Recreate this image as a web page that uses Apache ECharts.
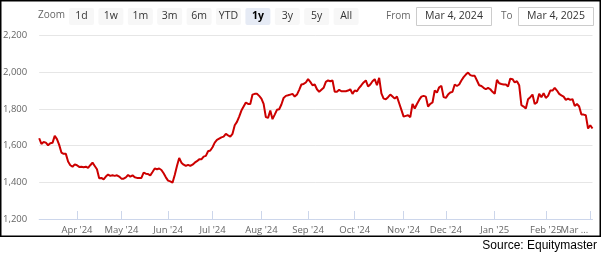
<!DOCTYPE html>
<html>
<head>
<meta charset="utf-8">
<script src="https://cdn.jsdelivr.net/npm/echarts@6/dist/echarts.min.js"></script>
<style>
  html, body { margin: 0; padding: 0; background: #fff; }
  #chart { width: 602px; height: 258px; }
</style>
</head>
<body>
<div id="chart"></div>
<script>
// Daily closing values, one array per month (Mar 4, 2024 – Mar 4, 2025)
const mar24 = [1640,1609,1620,1616,1602,1613,1615,1653,1635,1604,1562,1555,1555,1513,1493,1485,1498];
const apr24 = [1493,1484,1485,1482,1485,1478,1493,1507,1489,1471,1422,1424,1416,1431,1442,1435,1438,1435,1438,1431];
const may24 = [1420,1420,1427,1440,1431,1438,1427,1424,1424,1424,1453,1447,1445,1438,1456,1475,1471,1475,1467,1449,1427];
const jun24 = [1409,1405,1398,1440,1489,1533,1507,1496,1489,1495,1489,1496,1507,1515,1525,1525,1540,1544,1569,1573];
const jul24 = [1591,1616,1631,1638,1645,1649,1664,1656,1649,1664,1711,1729,1758,1791,1813,1835,1827,1827,1878,1882,1882,1871];
const aug24 = [1856,1827,1755,1751,1791,1744,1769,1795,1798,1824,1860,1871,1874,1878,1882,1867,1878,1904,1933,1936,1944];
const sep24 = [1962,1947,1929,1933,1907,1893,1904,1915,1947,1955,1951,1955,1893,1893,1904,1896,1896,1896,1900,1907,1882];
const oct24 = [1900,1896,1915,1929,1944,1955,1922,1933,1951,1962,1929,1969,1885,1856,1853,1864,1878,1867,1856,1867,1831,1795];
const nov24 = [1758,1762,1765,1755,1827,1802,1827,1849,1867,1871,1867,1813,1827,1835,1900,1889,1918,1925,1864];
const dec24 = [1860,1878,1889,1893,1933,1925,1933,1955,1973,1987,1998,1984,1980,1980,1955,1929,1925,1915,1907,1915,1907,1893];
const jan25 = [1882,1958,1940,1936,1933,1933,1922,1965,1962,1944,1951,1929,1820,1813,1802,1853,1864,1878,1827,1835,1882,1864,1885];
const feb25 = [1860,1871,1900,1900,1915,1900,1882,1874,1867,1849,1856,1849,1853,1816,1827,1813,1769,1769,1765,1693];
const mar25 = [1711,1693];

const monthKeys = ['2024-03','2024-04','2024-05','2024-06','2024-07','2024-08','2024-09','2024-10','2024-11','2024-12','2025-01','2025-02','2025-03'];
// tick labels for the month starts after the first (partial) month
const tickLabels = ["Apr '24","May '24","Jun '24","Jul '24","Aug '24","Sep '24","Oct '24","Nov '24","Dec '24","Jan '25","Feb '25","Mar ..."];
const yTicks = { min: 1200, max: 2200, interval: 200 };
const rangeButtons = ['1d','1w','1m','3m','6m','YTD','1y','3y','5y','All'];
const selectedRange = '1y';
const fromDate = 'Mar 4, 2024';
const toDate = 'Mar 4, 2025';
const sourceText = 'Source: Equitymaster';

const monthly = [mar24,apr24,may24,jun24,jul24,aug24,sep24,oct24,nov24,dec24,jan25,feb25,mar25];
const categories = [];
const values = [];
const tickAt = {};
monthly.forEach((arr, m) => {
  arr.forEach((v, j) => {
    if (j === 0 && m > 0) tickAt[categories.length] = tickLabels[m - 1];
    categories.push(monthKeys[m] + '#' + (j + 1));
    values.push(v);
  });
});
const lastTickIdx = Math.max(...Object.keys(tickAt).map(Number));
const isTick = (idx) => tickAt[idx] !== undefined;

const FONT = '"Open Sans", "Noto Sans", sans-serif';

// range selector graphics
const graphics = [];
graphics.push({ type: 'text', left: 38, top: 10, style: { text: 'Zoom', fill: '#666', font: '10px ' + FONT } });
rangeButtons.forEach((b, i) => {
  const x = 69 + i * 29.4;
  const sel = b === selectedRange;
  graphics.push({ type: 'rect', shape: { x: x, y: 8, width: 25, height: 17, r: 2 }, style: { fill: sel ? '#e6ebf5' : '#f7f7f7' } });
  graphics.push({ type: 'text', x: x + 12.5, y: 16.5, style: { text: b, fill: sel ? '#000' : '#333', font: (sel ? 'bold ' : '') + '10.5px ' + FONT, align: 'center', verticalAlign: 'middle' } });
});
graphics.push({ type: 'text', x: 386, y: 16.5, style: { text: 'From', fill: '#666', font: '10px ' + FONT, verticalAlign: 'middle' } });
graphics.push({ type: 'rect', shape: { x: 416.5, y: 7.5, width: 75, height: 18 }, style: { fill: '#fff', stroke: '#cccccc', lineWidth: 1 } });
graphics.push({ type: 'text', x: 454, y: 16.5, style: { text: fromDate, fill: '#333', font: '10.5px ' + FONT, align: 'center', verticalAlign: 'middle' } });
graphics.push({ type: 'text', x: 501, y: 16.5, style: { text: 'To', fill: '#666', font: '10px ' + FONT, verticalAlign: 'middle' } });
graphics.push({ type: 'rect', shape: { x: 518.5, y: 7.5, width: 75, height: 18 }, style: { fill: '#fff', stroke: '#cccccc', lineWidth: 1 } });
graphics.push({ type: 'text', x: 556, y: 16.5, style: { text: toDate, fill: '#333', font: '10.5px ' + FONT, align: 'center', verticalAlign: 'middle' } });
// outer frame
graphics.push({ type: 'rect', shape: { x: 0.75, y: 0.75, width: 599.5, height: 235.5 }, style: { fill: 'none', stroke: '#000', lineWidth: 1.5 }, z: 100 });
graphics.push({ type: 'text', right: 5, top: 240, style: { text: sourceText, fill: '#000', font: '12px "Liberation Sans", Arial, sans-serif' } });

const labelBase = { margin: 6, color: '#666', fontSize: 9.5, fontFamily: FONT };

const chart = echarts.init(document.getElementById('chart'), null, { renderer: 'canvas' });
chart.setOption({
  animation: false,
  backgroundColor: '#fff',
  grid: { left: 38, right: 9.5, top: 35.5, bottom: 39, containLabel: false },
  xAxis: [{
    type: 'category',
    data: categories,
    boundaryGap: false,
    axisLine: { lineStyle: { color: '#ccd6eb', width: 1 } },
    axisTick: { show: true, inside: true, length: 8, lineStyle: { color: '#ccd6eb' }, interval: (idx) => isTick(idx) },
    axisLabel: Object.assign({}, labelBase, {
      interval: (idx) => isTick(idx) && idx !== lastTickIdx,
      formatter: (v, idx) => tickAt[idx] || ''
    }),
    splitLine: { show: false }
  }, {
    // carries only the last (edge) month label, right-aligned to its tick
    type: 'category',
    data: categories,
    boundaryGap: false,
    position: 'bottom',
    axisLine: { show: false },
    axisTick: { show: false },
    axisLabel: Object.assign({}, labelBase, {
      align: 'right',
      padding: [0, 2, 0, 0],
      interval: (idx) => idx === lastTickIdx,
      formatter: (v, idx) => tickAt[idx] || ''
    }),
    splitLine: { show: false }
  }],
  yAxis: {
    type: 'value',
    min: yTicks.min, max: yTicks.max, interval: yTicks.interval,
    axisLine: { show: false },
    axisTick: { show: false },
    axisLabel: {
      color: '#666', fontSize: 9.5, fontFamily: FONT, margin: 12,
      padding: [0, 0, 8, 0],
      formatter: (v) => v.toLocaleString('en-US')
    },
    splitLine: { lineStyle: { color: '#e6e6e6', width: 1 } }
  },
  graphic: graphics,
  series: [{
    type: 'line',
    xAxisIndex: 0,
    data: values,
    showSymbol: false,
    symbol: 'none',
    lineStyle: { color: '#cc0000', width: 2 },
    emphasis: { disabled: true }
  }]
});
</script>
</body>
</html>
